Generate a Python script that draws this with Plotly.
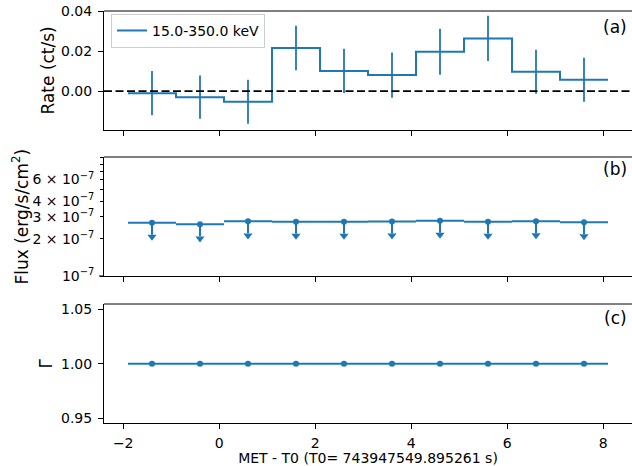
import plotly.graph_objects as go
from plotly.subplots import make_subplots

# Time bins (MET - T0, seconds)
bin_lo = [-1.9, -0.9, 0.1, 1.1, 2.1, 3.1, 4.1, 5.1, 6.1, 7.1]
bin_hi = [-0.9, 0.1, 1.1, 2.1, 3.1, 4.1, 5.1, 6.1, 7.1, 8.1]
bin_mid = [(a + b) / 2 for a, b in zip(bin_lo, bin_hi)]
bin_halfwidth = [(b - a) / 2 for a, b in zip(bin_lo, bin_hi)]

# Count rate, 15.0-350.0 keV
rate = [-0.0010, -0.0030, -0.0053, 0.0215, 0.0101, 0.0080, 0.0197, 0.0263, 0.0097, 0.0057]
rate_err = [0.0110, 0.0108, 0.0110, 0.0111, 0.0110, 0.0113, 0.0115, 0.0113, 0.0110, 0.0110]

# Flux upper limits (erg/s/cm^2)
flux_ul = [2.69e-7, 2.61e-7, 2.76e-7, 2.74e-7, 2.74e-7, 2.75e-7, 2.79e-7, 2.74e-7, 2.77e-7, 2.72e-7]
ul_arrow_frac = 0.2

# Photon index
gamma = [1.0, 1.0, 1.0, 1.0, 1.0, 1.0, 1.0, 1.0, 1.0, 1.0]

x_ticks = [-2, 0, 2, 4, 6, 8]
flux_tickvals = [1e-7, 2e-7, 3e-7, 4e-7, 6e-7]
flux_ticktext = ["10<sup>−7</sup>", "2 × 10<sup>−7</sup>", "3 × 10<sup>−7</sup>",
                 "4 × 10<sup>−7</sup>", "6 × 10<sup>−7</sup>"]
flux_minor_vals = [5e-7, 7e-7, 8e-7, 9e-7]

BLUE = "#1f77b4"
FONT = "DejaVu Sans"

fig = make_subplots(rows=3, cols=1)

# (a) rate light curve as a step histogram with error bars
step_x = bin_lo + [bin_hi[-1]]
step_y = rate + [rate[-1]]
fig.add_trace(go.Scatter(x=step_x, y=step_y, mode="lines", line_shape="hv",
                         line=dict(color=BLUE, width=2), name="15.0-350.0 keV",
                         showlegend=True), row=1, col=1)
fig.add_trace(go.Scatter(x=bin_mid, y=rate, mode="markers",
                         marker=dict(size=0.1, color=BLUE, opacity=0),
                         error_y=dict(type="data", array=rate_err, width=0,
                                      thickness=1.8, color=BLUE),
                         showlegend=False, hoverinfo="skip"), row=1, col=1)

# (b) flux upper limits: horizontal bin bars, down arrows
fig.add_trace(go.Scatter(x=bin_mid, y=flux_ul, mode="markers",
                         marker=dict(size=6, color=BLUE),
                         error_x=dict(type="data", array=bin_halfwidth, width=0,
                                      thickness=2, color=BLUE),
                         showlegend=False), row=2, col=1)
arrow_x, arrow_y = [], []
for xm, f in zip(bin_mid, flux_ul):
    arrow_x += [xm, xm, None]
    arrow_y += [f, f * (1 - ul_arrow_frac), None]
fig.add_trace(go.Scatter(x=arrow_x, y=arrow_y, mode="lines",
                         line=dict(color=BLUE, width=2),
                         showlegend=False, hoverinfo="skip"), row=2, col=1)
fig.add_trace(go.Scatter(x=bin_mid, y=[f * (1 - ul_arrow_frac) * 0.963 for f in flux_ul],
                         mode="markers",
                         marker=dict(symbol="triangle-down", size=8, color=BLUE,
                                     line=dict(width=0)),
                         showlegend=False, hoverinfo="skip"), row=2, col=1)

# (c) photon index
fig.add_trace(go.Scatter(x=bin_mid, y=gamma, mode="markers",
                         marker=dict(size=6, color=BLUE),
                         error_x=dict(type="data", array=bin_halfwidth, width=0,
                                      thickness=2, color=BLUE),
                         showlegend=False), row=3, col=1)

axis_common = dict(showline=True, linecolor="black", linewidth=1, ticks="outside",
                   ticklen=5, tickwidth=1, tickcolor="black", showgrid=False,
                   zeroline=False, tickfont=dict(family=FONT, size=14, color="black"))

domains = [[0.7112, 1.0], [0.3568, 0.6456], [0.0, 0.2888]]
for i in range(3):
    fig.update_xaxes(row=i + 1, col=1, range=[-2.4, 8.6], tickvals=x_ticks,
                     showticklabels=(i == 2), **axis_common)
    fig.update_yaxes(row=i + 1, col=1, domain=domains[i], ticklabelstandoff=3,
                     **axis_common)

fig.update_xaxes(row=3, col=1, ticklabelstandoff=2,
                 title=dict(text="MET - T0 (T0= 743947549.895261 s)",
                            font=dict(family=FONT, size=14, color="black"),
                            standoff=4))
fig.update_yaxes(row=1, col=1, range=[-0.0194, 0.04], tickvals=[0.0, 0.02, 0.04],
                 tickformat=".2f")
fig.update_yaxes(row=2, col=1, type="log", range=[-7, -6.04],
                 tickvals=flux_tickvals, ticktext=flux_ticktext, ticklen=3,
                 minor=dict(tickmode="array", tickvals=flux_minor_vals, ticks="outside",
                            ticklen=3, tickwidth=1, tickcolor="black", showgrid=False))
fig.update_yaxes(row=3, col=1, range=[0.9457, 1.0546], tickvals=[0.95, 1.0, 1.05],
                 tickformat=".2f")

# dashed zero line across panel (a)
fig.add_hline(y=0, line=dict(color="black", width=1.6, dash="8px,3.5px"), row=1, col=1)

shapes = []
for ax in ["", "2", "3"]:
    # top spine of each panel
    shapes.append(dict(type="line", xref=f"x{ax} domain", yref=f"y{ax} domain",
                       x0=0, x1=1, y0=1, y1=1, line=dict(color="black", width=1)))
# longer major tick at 1e-7 on the log axis
shapes.append(dict(type="line", xref="x2 domain", yref="y2 domain",
                   x0=-5 / 528, x1=0, y0=0, y1=0, line=dict(color="black", width=1)))
fig.update_layout(shapes=list(fig.layout.shapes) + shapes)

annotations = [
    dict(text="(a)", x=0.994, y=0.962, xanchor="right"),
    dict(text="(b)", x=0.994, y=0.6165, xanchor="right"),
    dict(text="(c)", x=0.994, y=0.2545, xanchor="right"),
    dict(text="Rate (ct/s)", x=48, y=0.8556, textangle=-90),
    dict(text="Flux (erg/s/cm<sup>2</sup>)", x=20, y=0.5012, textangle=-90),
    dict(text="Γ", x=46, y=0.1444, textangle=-90),
]
for a in annotations:
    x = a["x"]
    if x > 1:
        x = (x - 104) / 528
    fig.add_annotation(text=a["text"], x=x, y=a["y"], xref="paper", yref="paper",
                       xanchor=a.get("xanchor", "center"), yanchor="middle",
                       textangle=a.get("textangle", 0), showarrow=False,
                       font=dict(family=FONT, size=17, color="black"))

fig.update_layout(
    width=632, height=466,
    margin=dict(l=104, r=0, t=11, b=43),
    paper_bgcolor="white", plot_bgcolor="white",
    font=dict(family=FONT, size=14, color="black"),
    legend=dict(x=0.0133, y=0.993, xanchor="left", yanchor="top",
                bgcolor="rgba(255,255,255,0.8)", bordercolor="#cccccc", borderwidth=1,
                font=dict(family=FONT, size=14, color="black")),
)

fig.write_html("out.html")
